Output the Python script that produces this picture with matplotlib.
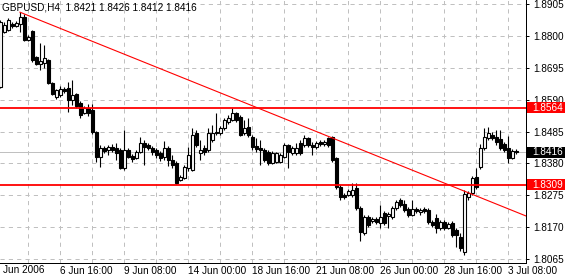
import numpy as np
import matplotlib
matplotlib.use("Agg")
import matplotlib.pyplot as plt
from matplotlib.patches import Rectangle
from matplotlib.transforms import blended_transform_factory

plt.rcParams['font.family'] = ['Liberation Sans', 'DejaVu Sans']
plt.rcParams['font.size'] = 7.2
plt.rcParams['lines.scale_dashes'] = False

# GBPUSD H4 candles (one bar = 4 hours)
opens = [1.8632, 1.8813, 1.8819, 1.8839, 1.8833, 1.8839, 1.8862, 1.8786, 1.8816, 1.8730,
         1.8707, 1.8711, 1.8721, 1.8645, 1.8599, 1.8605, 1.8625, 1.8628, 1.8589, 1.8609,
         1.8579, 1.8546, 1.8562, 1.8556, 1.8483, 1.8401, 1.8431, 1.8424, 1.8434, 1.8431,
         1.8424, 1.8365, 1.8424, 1.8404, 1.8398, 1.8418, 1.8447, 1.8441, 1.8431, 1.8424,
         1.8414, 1.8401, 1.8431, 1.8391, 1.8381, 1.8325, 1.8332, 1.8365, 1.8358, 1.8480,
         1.8414, 1.8431, 1.8424, 1.8457, 1.8483, 1.8480, 1.8497, 1.8516, 1.8523, 1.8546,
         1.8533, 1.8480, 1.8500, 1.8467, 1.8437, 1.8431, 1.8424, 1.8418, 1.8381, 1.8385,
         1.8385, 1.8401, 1.8441, 1.8414, 1.8414, 1.8447, 1.8441, 1.8464, 1.8441, 1.8434,
         1.8450, 1.8444, 1.8464, 1.8467, 1.8398, 1.8302, 1.8276, 1.8276, 1.8276, 1.8299,
         1.8233, 1.8151, 1.8203, 1.8190, 1.8197, 1.8184, 1.8217, 1.8207, 1.8203, 1.8233,
         1.8259, 1.8246, 1.8230, 1.8210, 1.8230, 1.8220, 1.8230, 1.8226, 1.8187, 1.8200,
         1.8167, 1.8187, 1.8167, 1.8184, 1.8161, 1.8138, 1.8088, 1.8269, 1.8282, 1.8335,
         1.8368, 1.8431, 1.8464, 1.8474, 1.8467, 1.8460, 1.8444, 1.8431, 1.8398, 1.8421]

highs = [1.8852, 1.8846, 1.8859, 1.8846, 1.8849, 1.8879, 1.8872, 1.8803, 1.8819, 1.8734,
         1.8777, 1.8770, 1.8724, 1.8648, 1.8625, 1.8635, 1.8632, 1.8648, 1.8655, 1.8612,
         1.8586, 1.8569, 1.8576, 1.8576, 1.8487, 1.8441, 1.8437, 1.8441, 1.8444, 1.8447,
         1.8431, 1.8490, 1.8431, 1.8411, 1.8424, 1.8467, 1.8457, 1.8447, 1.8437, 1.8431,
         1.8421, 1.8454, 1.8437, 1.8408, 1.8388, 1.8342, 1.8375, 1.8434, 1.8497, 1.8490,
         1.8457, 1.8441, 1.8497, 1.8506, 1.8546, 1.8503, 1.8530, 1.8539, 1.8562, 1.8549,
         1.8539, 1.8523, 1.8530, 1.8474, 1.8464, 1.8457, 1.8431, 1.8424, 1.8421, 1.8418,
         1.8414, 1.8447, 1.8444, 1.8437, 1.8447, 1.8457, 1.8474, 1.8467, 1.8450, 1.8454,
         1.8457, 1.8457, 1.8467, 1.8470, 1.8401, 1.8309, 1.8282, 1.8296, 1.8315, 1.8315,
         1.8240, 1.8210, 1.8210, 1.8203, 1.8203, 1.8243, 1.8223, 1.8220, 1.8240, 1.8259,
         1.8266, 1.8259, 1.8236, 1.8259, 1.8236, 1.8233, 1.8236, 1.8233, 1.8193, 1.8213,
         1.8193, 1.8193, 1.8187, 1.8190, 1.8167, 1.8151, 1.8292, 1.8289, 1.8338, 1.8365,
         1.8444, 1.8497, 1.8500, 1.8483, 1.8490, 1.8490, 1.8450, 1.8470, 1.8427, 1.8426]

lows = [1.8628, 1.8810, 1.8816, 1.8826, 1.8829, 1.8813, 1.8783, 1.8783, 1.8714, 1.8704,
        1.8688, 1.8694, 1.8642, 1.8605, 1.8592, 1.8599, 1.8612, 1.8549, 1.8572, 1.8562,
        1.8530, 1.8543, 1.8536, 1.8477, 1.8385, 1.8368, 1.8414, 1.8408, 1.8418, 1.8391,
        1.8362, 1.8358, 1.8398, 1.8385, 1.8394, 1.8414, 1.8375, 1.8424, 1.8408, 1.8398,
        1.8388, 1.8391, 1.8371, 1.8365, 1.8312, 1.8322, 1.8329, 1.8355, 1.8355, 1.8434,
        1.8391, 1.8408, 1.8418, 1.8450, 1.8474, 1.8474, 1.8490, 1.8510, 1.8520, 1.8516,
        1.8470, 1.8474, 1.8467, 1.8424, 1.8418, 1.8375, 1.8385, 1.8375, 1.8378, 1.8381,
        1.8381, 1.8398, 1.8365, 1.8408, 1.8408, 1.8408, 1.8434, 1.8434, 1.8408, 1.8427,
        1.8437, 1.8437, 1.8434, 1.8385, 1.8296, 1.8259, 1.8263, 1.8273, 1.8269, 1.8226,
        1.8124, 1.8144, 1.8170, 1.8184, 1.8180, 1.8167, 1.8177, 1.8167, 1.8197, 1.8226,
        1.8236, 1.8220, 1.8203, 1.8207, 1.8217, 1.8210, 1.8217, 1.8180, 1.8170, 1.8151,
        1.8161, 1.8161, 1.8164, 1.8138, 1.8105, 1.8091, 1.8078, 1.8259, 1.8276, 1.8296,
        1.8362, 1.8424, 1.8457, 1.8457, 1.8441, 1.8424, 1.8418, 1.8381, 1.8394, 1.8412]

closes = [1.8846, 1.8836, 1.8852, 1.8833, 1.8842, 1.8862, 1.8786, 1.8796, 1.8721, 1.8707,
          1.8717, 1.8727, 1.8645, 1.8609, 1.8622, 1.8625, 1.8618, 1.8589, 1.8605, 1.8569,
          1.8539, 1.8562, 1.8546, 1.8483, 1.8401, 1.8431, 1.8421, 1.8434, 1.8424, 1.8414,
          1.8365, 1.8424, 1.8401, 1.8394, 1.8418, 1.8447, 1.8434, 1.8431, 1.8418, 1.8408,
          1.8398, 1.8431, 1.8391, 1.8375, 1.8315, 1.8335, 1.8368, 1.8408, 1.8474, 1.8441,
          1.8424, 1.8418, 1.8480, 1.8480, 1.8480, 1.8497, 1.8523, 1.8530, 1.8546, 1.8523,
          1.8474, 1.8497, 1.8474, 1.8434, 1.8427, 1.8424, 1.8391, 1.8381, 1.8414, 1.8414,
          1.8408, 1.8441, 1.8418, 1.8431, 1.8431, 1.8414, 1.8464, 1.8441, 1.8434, 1.8447,
          1.8444, 1.8450, 1.8441, 1.8391, 1.8302, 1.8269, 1.8269, 1.8289, 1.8292, 1.8233,
          1.8154, 1.8203, 1.8177, 1.8197, 1.8187, 1.8203, 1.8184, 1.8213, 1.8233, 1.8253,
          1.8243, 1.8226, 1.8210, 1.8230, 1.8223, 1.8226, 1.8223, 1.8187, 1.8177, 1.8167,
          1.8187, 1.8167, 1.8180, 1.8144, 1.8144, 1.8101, 1.8279, 1.8282, 1.8332, 1.8302,
          1.8431, 1.8467, 1.8480, 1.8464, 1.8450, 1.8431, 1.8424, 1.8398, 1.8421, 1.8416]

price_ticks = [1.8065, 1.8170, 1.8275, 1.8380, 1.8485, 1.8590, 1.8695, 1.8800, 1.8905]
time_ticks = [15, 31, 47, 63, 79, 95, 111, 127]
time_labels = ["6 Jun 16:00", "9 Jun 08:00", "14 Jun 00:00", "18 Jun 16:00",
               "21 Jun 08:00", "26 Jun 00:00", "28 Jun 16:00", "3 Jul 08:00"]
grid_bars = list(range(7, 130, 8))
levels = [1.8564, 1.8309]
trend_x = [5, 80]
trend_y = [1.8878, 1.8480]

W, H = 565, 279
fig = plt.figure(figsize=(W / 100, H / 100), dpi=100)
fig.patch.set_facecolor('white')
ax = fig.add_axes([0, 16 / H, 526 / W, 263 / H])
ax.set_xlim(0, 131.5)
ax.set_ylim(1.80518, 1.89182)

o = np.array(opens)
c = np.array(closes)
x = np.arange(len(o))

# grid
ax.set_yticks(price_ticks)
ax.set_yticklabels([f"{v:.4f}" for v in price_ticks])
ax.set_xticks(time_ticks)
ax.set_xticklabels(time_labels, ha='left')
ax.set_xticks(grid_bars, minor=True)
ax.grid(True, which='both', color='#c0c0c0', linestyle=(0, (3, 3)), linewidth=0.72)
ax.set_axisbelow(True)
ax.yaxis.tick_right()
ax.tick_params(axis='y', direction='out', length=2.5, width=0.72, pad=3, colors='black')
ax.tick_params(axis='x', which='both', length=0, pad=2.5, colors='black')
for side in ['left', 'top']:
    ax.spines[side].set_visible(False)
for side in ['right', 'bottom']:
    ax.spines[side].set_linewidth(0.72)
    ax.spines[side].set_color('black')

ax.text(0.75, -0.008, "Jun 2006", transform=ax.get_xaxis_transform(),
        ha='left', va='top', clip_on=False)

# last price line
ax.axhline(closes[-1], color='#c0c0c0', linewidth=0.72, zorder=1)

# candles
ax.vlines(x, lows, highs, color='black', linewidth=0.8, zorder=3)
up = c >= o
body_lo = np.minimum(o, c)
body_h = np.maximum(np.abs(c - o), 0.00005)
ax.bar(x[up], body_h[up], bottom=body_lo[up], width=0.75, color='white',
       edgecolor='black', linewidth=0.8, zorder=4)
ax.bar(x[~up], body_h[~up], bottom=body_lo[~up], width=0.75, color='black',
       edgecolor='black', linewidth=0.8, zorder=4)

# horizontal levels and trend line
for lv in levels:
    ax.axhline(lv, color='red', linewidth=1.3, zorder=5)
slope = (trend_y[1] - trend_y[0]) / (trend_x[1] - trend_x[0])
x_end = 131.5
ax.plot([trend_x[0], x_end], [trend_y[0], trend_y[0] + slope * (x_end - trend_x[0])],
        color='red', linewidth=0.8, zorder=5)

# price boxes on the axis
tr = blended_transform_factory(fig.transFigure, ax.transData)
box_h = 11 * (1.89182 - 1.80518) / 263
for lv, col in [(levels[0], 'red'), (levels[1], 'red'), (closes[-1], 'black')]:
    ax.add_patch(Rectangle((527 / W, lv - box_h / 2), 38 / W, box_h, transform=tr,
                           facecolor=col, edgecolor='none', clip_on=False, zorder=10))
    ax.text(532 / W, lv, f"{lv:.4f}", transform=tr, color='white', ha='left',
            va='center', clip_on=False, zorder=11)

fig.text(2 / W, 1 - 2 / H,
         f"GBPUSD,H4  {opens[-1]:.4f} {highs[-1]:.4f} {lows[-1]:.4f} {closes[-1]:.4f}",
         ha='left', va='top')

fig.savefig('out.png', dpi=100)
